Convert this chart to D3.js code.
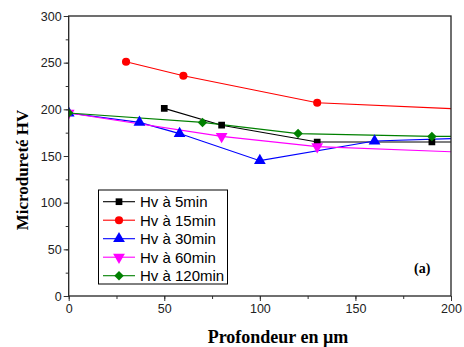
<!DOCTYPE html>
<html lang="en">
  <head>
    <meta charset="UTF-8" />
    <title>Microdureté</title>
    <script src="https://d3js.org/d3.v7.min.js"></script>
    <style>
      body { margin: 0; background: #fff; }
      .tick text { font-family: Arial, "Liberation Sans", sans-serif; font-size: 12.5px; fill: #222; }
      .title { font-family: "Times New Roman", "Liberation Serif", serif; font-weight: bold; font-size: 18px; }
      .legend text { font-family: Arial, "Liberation Sans", sans-serif; font-size: 15px; }
    </style>
  </head>
  <body>
    <svg id="chart" width="464" height="347"></svg>
    <script>
      // depth (µm) and hardness values; last point of each
      // series sits past the frame edge so the line runs out to the border
      let names = ["Hv à 5min", "Hv à 15min", "Hv à 30min", "Hv à 60min", "Hv à 120min"];
      let colors = ["#000000", "#ff0000", "#0000ff", "#ff00ff", "#008000"];
      let symbols = ["square", "circle", "triangle", "down", "diamond"];

      let x_5min = [50, 80, 130, 190, 220];
      let y_5min = [201, 183, 165, 165, 165];
      let x_15min = [30, 60, 130, 220];
      let y_15min = [251, 236, 207, 199];
      let x_30min = [0, 37, 58, 100, 160, 220];
      let y_30min = [196, 186, 174, 145, 166, 170];
      let x_60min = [0, 80, 130, 220];
      let y_60min = [196, 171, 160, 153];
      let x_120min = [0, 70, 120, 190, 220];
      let y_120min = [196, 186, 174, 171, 171];

      let xTicks = [0, 50, 100, 150, 200];
      let yTicks = [0, 50, 100, 150, 200, 250, 300];

      let series = [
        [x_5min, y_5min],
        [x_15min, y_15min],
        [x_30min, y_30min],
        [x_60min, y_60min],
        [x_120min, y_120min],
      ].map(function (s, i) {
        return {
          name: names[i],
          color: colors[i],
          symbol: symbols[i],
          points: s[0].map((v, j) => ({ x: v, y: s[1][j] })),
        };
      });

      let pLeft = 68.7, pRight = 451, pTop = 16, pBottom = 296;
      let svg = d3.select("#chart");

      let x = d3.scaleLinear().domain([0, 200]).range([pLeft, pRight]);
      let y = d3.scaleLinear().domain([0, 300]).range([pBottom, pTop]);

      svg.append("defs").append("clipPath").attr("id", "clip")
        .append("rect")
        .attr("x", pLeft).attr("y", pTop)
        .attr("width", pRight - pLeft).attr("height", pBottom - pTop);

      // minor ticks
      let xMinor = d3.range(0, 201, 25);
      let yMinor = d3.range(0, 301, 25);
      svg.append("g")
        .attr("transform", `translate(0,${pBottom})`)
        .call(d3.axisBottom(x).tickValues(xMinor).tickSize(3).tickFormat(""))
        .call((g) => g.select(".domain").remove())
        .selectAll("line").attr("stroke", "#333");
      svg.append("g")
        .attr("transform", `translate(${pLeft},0)`)
        .call(d3.axisLeft(y).tickValues(yMinor).tickSize(3).tickFormat(""))
        .call((g) => g.select(".domain").remove())
        .selectAll("line").attr("stroke", "#333");

      // major ticks
      let xAxis = svg.append("g")
        .attr("transform", `translate(0,${pBottom})`)
        .call(d3.axisBottom(x).tickValues(xTicks).tickSize(5).tickPadding(3))
        .call((g) => g.select(".domain").remove());
      xAxis.selectAll("line").attr("stroke", "#333");
      let yAxis = svg.append("g")
        .attr("transform", `translate(${pLeft},0)`)
        .call(d3.axisLeft(y).tickValues(yTicks).tickSize(5).tickPadding(2))
        .call((g) => g.select(".domain").remove());
      yAxis.selectAll("line").attr("stroke", "#333");

      let line = d3.line().x((d) => x(d.x)).y((d) => y(d.y));
      let plot = svg.append("g").attr("clip-path", "url(#clip)");

      let symbolType = {
        square: d3.symbolSquare,
        circle: d3.symbolCircle,
        triangle: d3.symbolTriangle,
        down: d3.symbolTriangle,
        diamond: d3.symbolSquare,
      };
      let symbolSize = { square: 45, circle: 52, triangle: 60, down: 60, diamond: 45 };
      let symbolTurn = { square: 0, circle: 0, triangle: 0, down: 180, diamond: 45 };

      function marker(sel, s) {
        sel.attr("d", d3.symbol().type(symbolType[s.symbol]).size(symbolSize[s.symbol])())
          .attr("fill", s.color);
      }

      series.forEach(function (s) {
        plot.append("path")
          .datum(s.points)
          .attr("fill", "none")
          .attr("stroke", s.color)
          .attr("stroke-width", 1.1)
          .attr("d", line);
      });
      series.forEach(function (s) {
        plot.selectAll(null)
          .data(s.points.filter((d) => d.x <= 200))
          .enter()
          .append("path")
          .call(marker, s)
          .attr("transform", (d) =>
            `translate(${x(d.x)},${y(d.y)}) rotate(${symbolTurn[s.symbol]})`);
      });

      // frame
      svg.append("rect")
        .attr("x", pLeft).attr("y", pTop)
        .attr("width", pRight - pLeft).attr("height", pBottom - pTop)
        .attr("fill", "none").attr("stroke", "#222").attr("stroke-width", 1.3);

      // legend
      let lg = svg.append("g").attr("class", "legend");
      lg.append("rect")
        .attr("x", 98.5).attr("y", 190)
        .attr("width", 129).attr("height", 94)
        .attr("fill", "#fff").attr("stroke", "#000").attr("stroke-width", 1);
      series.forEach(function (s, i) {
        let cy = 201.7 + i * 18.5;
        lg.append("line")
          .attr("x1", 103).attr("x2", 135)
          .attr("y1", cy).attr("y2", cy)
          .attr("stroke", s.color).attr("stroke-width", 1.1);
        lg.append("path")
          .call(marker, s)
          .attr("transform", `translate(119,${cy}) rotate(${symbolTurn[s.symbol]})`);
        lg.append("text")
          .attr("x", 140).attr("y", cy)
          .attr("dy", "0.36em")
          .text(s.name);
      });

      // titles
      svg.append("text")
        .attr("class", "title")
        .attr("text-anchor", "middle")
        .attr("x", 278)
        .attr("y", 343)
        .text("Profondeur en µm");
      svg.append("text")
        .attr("class", "title")
        .attr("text-anchor", "middle")
        .attr("style", "font-size:17px")
        .attr("transform", `translate(28,170) rotate(-90)`)
        .text("Microdureté HV");
      svg.append("text")
        .attr("class", "title")
        .attr("style", "font-size:14px")
        .attr("x", 414)
        .attr("y", 273)
        .text("(a)");
    </script>
  </body>
</html>
